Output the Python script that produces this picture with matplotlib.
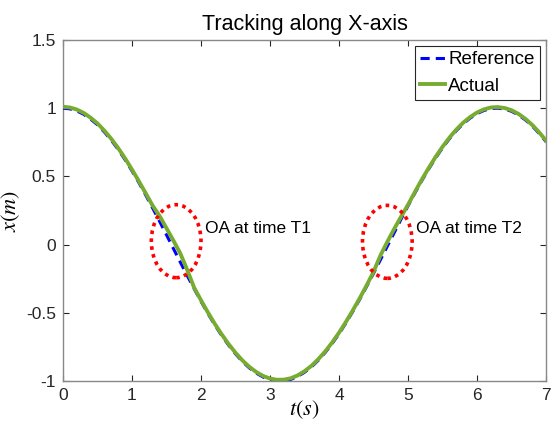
import matplotlib
matplotlib.use("Agg")
import matplotlib.pyplot as plt
from matplotlib.patches import Ellipse
import numpy as np

t = [0.0, 0.1, 0.2, 0.3, 0.4, 0.5, 0.6, 0.7, 0.8, 0.9,
     1.0, 1.1, 1.2, 1.3, 1.4, 1.5, 1.6, 1.7, 1.8, 1.9,
     2.0, 2.1, 2.2, 2.3, 2.4, 2.5, 2.6, 2.7, 2.8, 2.9,
     3.0, 3.1, 3.2, 3.3, 3.4, 3.5, 3.6, 3.7, 3.8, 3.9,
     4.0, 4.1, 4.2, 4.3, 4.4, 4.5, 4.6, 4.7, 4.8, 4.9,
     5.0, 5.1, 5.2, 5.3, 5.4, 5.5, 5.6, 5.7, 5.8, 5.9,
     6.0, 6.1, 6.2, 6.3, 6.4, 6.5, 6.6, 6.7, 6.8, 6.9, 7.0]

reference = [1.00, 0.995, 0.98, 0.955, 0.92, 0.878, 0.825, 0.765, 0.697, 0.622,
             0.540, 0.454, 0.362, 0.267, 0.170, 0.071, -0.029, -0.129, -0.227, -0.323,
             -0.416, -0.505, -0.589, -0.666, -0.737, -0.801, -0.857, -0.904, -0.942, -0.971,
             -0.990, -0.999, -0.998, -0.988, -0.967, -0.936, -0.897, -0.848, -0.791, -0.726,
             -0.654, -0.575, -0.490, -0.401, -0.307, -0.211, -0.112, -0.012, 0.087, 0.187,
             0.284, 0.378, 0.469, 0.554, 0.635, 0.709, 0.776, 0.835, 0.886, 0.927,
             0.960, 0.983, 0.997, 1.00, 0.993, 0.977, 0.950, 0.914, 0.869, 0.815, 0.754]

actual = [1.01, 1.005, 0.99, 0.965, 0.93, 0.888, 0.835, 0.775, 0.707, 0.632,
          0.550, 0.464, 0.375, 0.285, 0.210, 0.120, 0.030, -0.065, -0.185, -0.315,
          -0.408, -0.497, -0.581, -0.658, -0.729, -0.793, -0.849, -0.896, -0.934, -0.963,
          -0.982, -0.991, -0.990, -0.980, -0.959, -0.928, -0.889, -0.840, -0.783, -0.718,
          -0.646, -0.567, -0.482, -0.393, -0.299, -0.200, -0.080, 0.020, 0.115, 0.205,
          0.292, 0.386, 0.477, 0.562, 0.643, 0.717, 0.784, 0.843, 0.894, 0.935,
          0.968, 0.991, 1.005, 1.008, 1.001, 0.985, 0.958, 0.922, 0.877, 0.823, 0.762]

xticks = [0, 1, 2, 3, 4, 5, 6, 7]
yticks = [-1, -0.5, 0, 0.5, 1, 1.5]
yticklabels = ["-1", "-0.5", "0", "0.5", "1", "1.5"]

plt.rcParams['font.family'] = ['Liberation Sans', 'DejaVu Sans']
plt.rcParams['mathtext.fontset'] = 'stix'

fig = plt.figure(figsize=(5.51, 4.25), dpi=100)
ax = fig.add_axes([0.1143, 0.1035, 0.8767, 0.8025])

ax.plot(t, reference, color=(0, 0, 1), lw=2.2, ls=(0, (3, 2)), label='Reference', zorder=3)
ax.plot(t, actual, color='#77AC30', lw=2.8, label='Actual', zorder=4)

for cx, cy in [(1.64, 0.025), (4.70, 0.02)]:
    e = Ellipse((cx, cy), 0.72, 0.535, fill=False, edgecolor='red', lw=2.6,
                ls=(0, (1, 1.2)), zorder=5)
    ax.add_patch(e)

ax.text(2.06, 0.12, 'OA at time T1', fontsize=12.5, va='center', ha='left')
ax.text(5.12, 0.12, 'OA at time T2', fontsize=12.5, va='center', ha='left')

ax.set_xlim(0, 7)
ax.set_ylim(-1, 1.5)
ax.set_xticks(xticks)
ax.set_yticks(yticks)
ax.set_yticklabels(yticklabels)
ax.tick_params(direction='in', top=True, right=True, labelsize=12.5, length=4,
               color='#262626', labelcolor='#262626', pad=5)
for s in ax.spines.values():
    s.set_color('#888888')
    s.set_linewidth(1.0)

ax.set_title('Tracking along X-axis', fontsize=15.5, pad=7)
ax.set_xlabel('$t(s)$', fontsize=16, labelpad=-3)
ax.set_ylabel('$x(m)$', fontsize=16, labelpad=3)

leg = ax.legend(loc='upper right', fontsize=13.5, handlelength=1.3, handletextpad=0.2,
                borderpad=0.3, labelspacing=0.5, borderaxespad=0.3, fancybox=False,
                framealpha=1, edgecolor='#262626')
leg.get_frame().set_linewidth(0.8)

fig.savefig('out.png', dpi=100)
